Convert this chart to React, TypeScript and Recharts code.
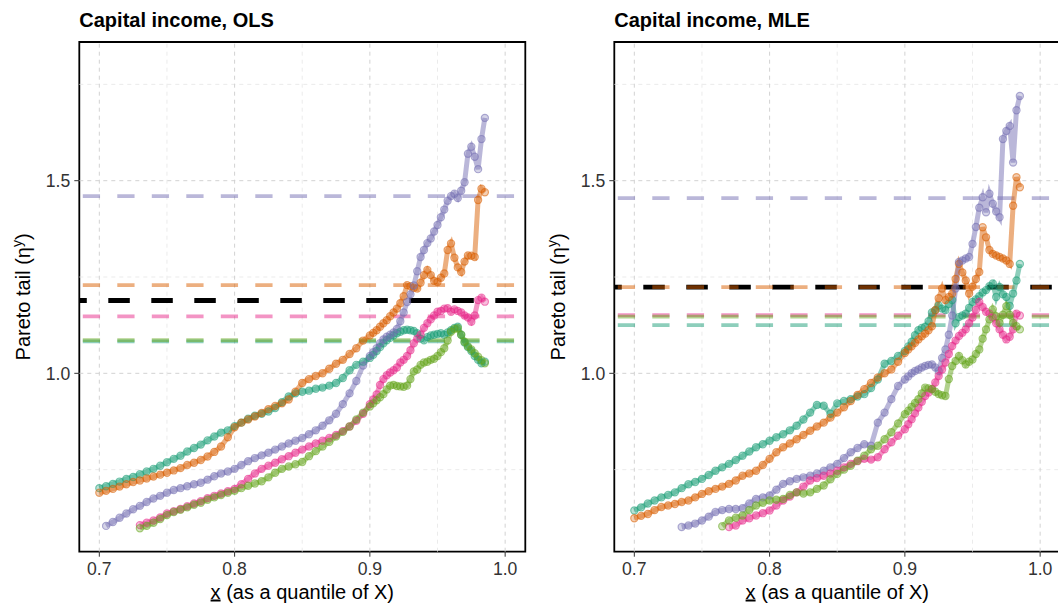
import { ComposedChart, Line, XAxis, YAxis, ReferenceLine, ReferenceArea } from "recharts"

// quantile grid shared by every series
const xGrid = [
  0.7, 0.705, 0.71, 0.715, 0.72, 0.725, 0.73, 0.735, 0.74, 0.745,
  0.75, 0.755, 0.76, 0.765, 0.77, 0.775, 0.78, 0.785, 0.79, 0.795,
  0.8, 0.805, 0.81, 0.815, 0.82, 0.825, 0.83, 0.835, 0.84, 0.845,
  0.85, 0.855, 0.86, 0.865, 0.87, 0.875, 0.88, 0.885, 0.89, 0.895,
  0.9, 0.9025, 0.905, 0.9075, 0.91, 0.9125, 0.915, 0.9175, 0.92, 0.9225,
  0.925, 0.9275, 0.93, 0.9325, 0.935, 0.9375, 0.94, 0.9425, 0.945, 0.9475,
  0.95, 0.9525, 0.955, 0.9575, 0.96, 0.9625, 0.965, 0.9675, 0.97, 0.9725,
  0.975, 0.9775, 0.98, 0.9825, 0.985,
]

// OLS panel
const olsTeal = [
  0.702, 0.707, 0.713, 0.719, 0.726, 0.731, 0.738, 0.745, 0.752, 0.76,
  0.769, 0.778, 0.786, 0.797, 0.806, 0.815, 0.826, 0.836, 0.846, 0.852,
  0.863, 0.872, 0.882, 0.89, 0.895, 0.901, 0.91, 0.925, 0.94, 0.948,
  0.952, 0.955, 0.96, 0.963, 0.968, 0.975, 0.988, 1.008, 1.022, 1.03,
  1.04, 1.048, 1.058, 1.068, 1.078, 1.086, 1.092, 1.098, 1.104, 1.108,
  1.112, 1.113, 1.112, 1.11, 1.104, 1.09, 1.086, 1.094, 1.098, 1.1,
  1.102, 1.104, 1.1, 1.106, 1.112, 1.118, 1.121, 1.1, 1.08, 1.068,
  1.058, 1.045, 1.035, 1.026, 1.03,
]
const olsOrange = [
  0.69, 0.695, 0.7, 0.706, 0.712, 0.718, 0.722, 0.727, 0.732, 0.737,
  0.742, 0.748, 0.754, 0.762, 0.768, 0.775, 0.784, 0.796, 0.81, 0.834,
  0.86, 0.872, 0.88, 0.888, 0.897, 0.907, 0.915, 0.922, 0.932, 0.952,
  0.975, 0.985, 0.993, 1.0, 1.012, 1.025, 1.035, 1.05, 1.065, 1.085,
  1.098, 1.105, 1.112, 1.121, 1.13, 1.138, 1.148, 1.158, 1.168, 1.182,
  1.2, 1.229, 1.226, 1.222, 1.22, 1.235, 1.255, 1.268, 1.255, 1.24,
  1.237, 1.248, 1.259, 1.32, 1.337, 1.3, 1.275, 1.263, 1.29, 1.306,
  1.305, 1.302, 1.45, 1.479, 1.47,
]
const olsPurple = [
  null, 0.604, 0.614, 0.625, 0.636, 0.647, 0.656, 0.666, 0.675, 0.682,
  0.69, 0.697, 0.702, 0.707, 0.712, 0.716, 0.724, 0.733, 0.74, 0.745,
  0.752, 0.762, 0.772, 0.78, 0.787, 0.794, 0.802, 0.81, 0.818, 0.825,
  0.832, 0.842, 0.852, 0.864, 0.878, 0.895, 0.92, 0.948, 0.98, 1.02,
  1.045, 1.055, 1.065, 1.078, 1.088, 1.095, 1.1, 1.106, 1.115, 1.135,
  1.158, 1.185, 1.205, 1.228, 1.265, 1.302, 1.32, 1.338, 1.35, 1.368,
  1.385, 1.405, 1.425, 1.448, 1.46, 1.466, 1.455, 1.474, 1.496, 1.57,
  1.588, 1.562, 1.53, 1.608, 1.663,
]
const olsPink = [
  null, null, null, null, null, null, 0.606, 0.612, 0.618, 0.626,
  0.636, 0.642, 0.648, 0.655, 0.662, 0.668, 0.676, 0.682, 0.688, 0.694,
  0.7, 0.712, 0.726, 0.74, 0.752, 0.76, 0.768, 0.777, 0.785, 0.794,
  0.802, 0.81, 0.818, 0.825, 0.832, 0.84, 0.85, 0.862, 0.877, 0.895,
  0.92, 0.932, 0.945, 0.97, 0.985, 0.995, 1.002, 1.008, 1.015, 1.028,
  1.035, 1.045, 1.06, 1.078, 1.09, 1.1, 1.118, 1.13, 1.14, 1.15,
  1.16, 1.162, 1.168, 1.169, 1.16, 1.166, 1.162, 1.158, 1.15, 1.145,
  1.134, 1.15, 1.19, 1.196, 1.186,
]
const olsGreen = [
  null, null, null, null, null, null, 0.598, 0.604, 0.612, 0.622,
  0.632, 0.64, 0.646, 0.652, 0.659, 0.664, 0.672, 0.678, 0.684, 0.69,
  0.695, 0.702, 0.708, 0.714, 0.72, 0.73, 0.742, 0.752, 0.758, 0.764,
  0.77, 0.785, 0.798, 0.81, 0.822, 0.836, 0.848, 0.862, 0.88, 0.898,
  0.914, 0.922, 0.93, 0.938, 0.946, 0.958, 0.968, 0.97, 0.967, 0.966,
  0.965, 0.968, 0.985, 1.005, 1.01, 1.022, 1.028, 1.03, 1.035, 1.038,
  1.045, 1.055, 1.065, 1.085, 1.108, 1.115, 1.117, 1.1, 1.082, 1.07,
  1.062, 1.052, 1.043, 1.034, 1.026,
]

// MLE panel
const mleTeal = [
  0.644, 0.652, 0.662, 0.67, 0.678, 0.684, 0.691, 0.702, 0.712, 0.718,
  0.726, 0.736, 0.747, 0.756, 0.765, 0.775, 0.786, 0.797, 0.808, 0.816,
  0.825, 0.834, 0.842, 0.852, 0.864, 0.88, 0.898, 0.918, 0.916, 0.895,
  0.922, 0.928, 0.933, 0.94, 0.946, 0.962, 0.984, 1.025, 1.032, 1.045,
  1.058, 1.07, 1.082, 1.099, 1.112, 1.118, 1.121, 1.135, 1.158, 1.164,
  1.176, 1.168, 1.164, 1.18, 1.19, 1.13, 1.146, 1.15, 1.155, 1.17,
  1.185, 1.192, 1.2, 1.21, 1.216, 1.226, 1.233, 1.198, 1.224, 1.205,
  1.198, 1.175, 1.207, 1.241, 1.284,
]
const mleOrange = [
  0.624, 0.63, 0.635, 0.645, 0.653, 0.657, 0.661, 0.666, 0.67, 0.678,
  0.687, 0.694, 0.7, 0.706, 0.713, 0.722, 0.734, 0.74, 0.747, 0.762,
  0.778, 0.795, 0.808, 0.818, 0.829, 0.84, 0.851, 0.862, 0.872, 0.885,
  0.898, 0.912, 0.928, 0.944, 0.959, 0.975, 0.989, 1.0, 1.01, 1.03,
  1.053, 1.062, 1.07, 1.079, 1.088, 1.096, 1.103, 1.112, 1.122, 1.164,
  1.195, 1.22, 1.19, 1.198, 1.207, 1.245, 1.284, 1.262, 1.241, 1.207,
  1.225, 1.245, 1.263, 1.379, 1.353, 1.32, 1.31, 1.306, 1.302, 1.298,
  1.293, 1.284, 1.435, 1.509, 1.483,
]
const mlePurple = [
  null, null, null, null, null, null, null, 0.601, 0.605, 0.61,
  0.618, 0.628, 0.64, 0.645, 0.648, 0.648, 0.65, 0.662, 0.674, 0.678,
  0.683, 0.698, 0.713, 0.72, 0.726, 0.73, 0.734, 0.74, 0.747, 0.756,
  0.765, 0.78, 0.795, 0.806, 0.816, 0.812, 0.872, 0.898, 0.933, 0.967,
  0.984, 0.992, 1.0, 1.006, 1.01, 1.015, 1.019, 1.022, 1.023, 1.015,
  1.006, 1.04, 1.062, 1.1, 1.15, 1.22, 1.289, 1.293, 1.298, 1.302,
  1.336, 1.38, 1.43, 1.457, 1.418, 1.466, 1.44, 1.42, 1.405, 1.608,
  1.629, 1.642, 1.547, 1.683, 1.72,
]
const mlePink = [
  null, null, null, null, null, null, null, null, null, null,
  null, null, null, null, 0.601, 0.605, 0.618, 0.624, 0.631, 0.637,
  0.644, 0.657, 0.67, 0.68, 0.691, 0.706, 0.722, 0.728, 0.734, 0.74,
  0.747, 0.756, 0.765, 0.772, 0.778, 0.776, 0.782, 0.803, 0.821, 0.838,
  0.855, 0.868, 0.881, 0.896, 0.911, 0.926, 0.941, 0.95, 0.959, 0.976,
  0.993, 1.01, 1.028, 1.05, 1.071, 1.085, 1.097, 1.105, 1.114, 1.13,
  1.145, 1.165, 1.185, 1.172, 1.16, 1.155, 1.145, 1.13, 1.114, 1.1,
  1.088, 1.095, 1.114, 1.155, 1.15,
]
const mleGreen = [
  null, null, null, null, null, null, null, null, null, null,
  null, null, null, 0.603, 0.618, 0.625, 0.631, 0.645, 0.657, 0.664,
  0.67, 0.672, 0.674, 0.684, 0.691, 0.688, 0.691, 0.7, 0.709, 0.725,
  0.739, 0.75, 0.76, 0.773, 0.786, 0.803, 0.812, 0.829, 0.847, 0.87,
  0.894, 0.903, 0.913, 0.923, 0.933, 0.948, 0.963, 0.961, 0.959, 0.952,
  0.946, 0.943, 0.941, 0.985, 1.019, 1.032, 1.045, 1.034, 1.023, 1.03,
  1.036, 1.05, 1.062, 1.09, 1.114, 1.14, 1.166, 1.148, 1.131, 1.152,
  1.174, 1.152, 1.131, 1.122, 1.114,
]

// horizontal reference levels, same series order as the colours
const olsTailLevels = [1.083, 1.229, 1.46, 1.148, 1.086]
const olsBenchmark = 1.189
const mleTailLevels = [1.125, 1.224, 1.455, 1.151, 1.147]
const mleBenchmark = 1.224

const xTicks = [0.7, 0.8, 0.9, 1.0]
const xMinor = [0.75, 0.85, 0.95]
const yTicks = [1.0, 1.5]
const yMinor = [0.75, 1.25, 1.75]

const COLORS = ["#1B9E77", "#D95F02", "#7570B3", "#E7298A", "#66A61E"]
const KEYS = ["s1", "s2", "s3", "s4", "s5"]

const X_DOMAIN = [0.6852, 1.0149]
const Y_DOMAIN = [0.537, 1.86]

function buildRows(cols: (number | null)[][]) {
  return xGrid.map((x, i) => {
    const row: Record<string, number | null> = { x }
    cols.forEach((c, k) => {
      row[KEYS[k]] = c[i]
    })
    return row
  })
}

const olsRows = buildRows([olsTeal, olsOrange, olsPurple, olsPink, olsGreen])
const mleRows = buildRows([mleTeal, mleOrange, mlePurple, mlePink, mleGreen])

interface PanelProps {
  rows: Record<string, number | null>[]
  levels: number[]
  benchmark: number
  left: number
}

function Panel({ rows, levels, benchmark, left }: PanelProps) {
  return (
    <div style={{ position: "absolute", left, top: 0 }}>
      <ComposedChart
        width={540}
        height={607}
        data={rows}
        margin={{ top: 42, right: 14.7, bottom: 25.3, left: 0 }}
      >
        <XAxis
          dataKey="x"
          type="number"
          domain={X_DOMAIN}
          allowDataOverflow
          ticks={xTicks}
          interval={0}
          height={30}
          tickFormatter={(v: number) => v.toFixed(1)}
          axisLine={false}
          tickLine={{ stroke: "#333", strokeWidth: 1 }}
          tickSize={5}
          tickMargin={6}
          tick={{ fontSize: 17.6, fill: "#333" }}
        />
        <YAxis
          type="number"
          domain={Y_DOMAIN}
          allowDataOverflow
          ticks={yTicks}
          interval={0}
          width={79.3}
          tickFormatter={(v: number) => v.toFixed(1)}
          axisLine={false}
          tickLine={{ stroke: "#333", strokeWidth: 1 }}
          tickSize={5}
          tickMargin={4}
          tick={{ fontSize: 17.6, fill: "#333" }}
        />

        {xMinor.map((v) => (
          <ReferenceLine key={`xm${v}`} x={v} stroke="#e6e6e6" strokeWidth={0.8} strokeDasharray="4 4" />
        ))}
        {yMinor.map((v) => (
          <ReferenceLine key={`ym${v}`} y={v} stroke="#e6e6e6" strokeWidth={0.8} strokeDasharray="4 4" />
        ))}
        {xTicks.map((v) => (
          <ReferenceLine key={`xg${v}`} x={v} stroke="#d2d2d2" strokeWidth={1} strokeDasharray="4 4" />
        ))}
        {yTicks.map((v) => (
          <ReferenceLine key={`yg${v}`} y={v} stroke="#d2d2d2" strokeWidth={1} strokeDasharray="4 4" />
        ))}

        <ReferenceLine
          y={benchmark}
          stroke="#000"
          strokeWidth={4.8}
          strokeDasharray="21.5 21.5"
          strokeDashoffset={14}
        />
        {levels.map((v, i) => (
          <ReferenceLine
            key={`lv${i}`}
            y={v}
            stroke={COLORS[i]}
            strokeOpacity={0.5}
            strokeWidth={3.8}
            strokeDasharray="17.25 17.25"
            strokeDashoffset={31}
          />
        ))}

        {KEYS.map((k, i) => (
          <Line
            key={k}
            dataKey={k}
            type="linear"
            stroke={COLORS[i]}
            strokeOpacity={0.5}
            strokeWidth={5}
            connectNulls={false}
            dot={{
              r: 3.6,
              fill: COLORS[i],
              fillOpacity: 0.3,
              stroke: COLORS[i],
              strokeOpacity: 0.55,
              strokeWidth: 1.2,
            }}
            activeDot={false}
            isAnimationActive={false}
          />
        ))}

        <ReferenceArea
          x1={X_DOMAIN[0]}
          x2={X_DOMAIN[1]}
          y1={Y_DOMAIN[0]}
          y2={Y_DOMAIN[1]}
          fill="none"
          fillOpacity={0}
          stroke="#000"
          strokeWidth={1.8}
          ifOverflow="visible"
        />
      </ComposedChart>
    </div>
  )
}

function Labels() {
  const plots = [
    { left: 79.3, title: "Capital income, OLS" },
    { left: 614.3, title: "Capital income, MLE" },
  ]
  return (
    <svg
      width={1058}
      height={607}
      style={{ position: "absolute", left: 0, top: 0, pointerEvents: "none" }}
    >
      {plots.map((p) => (
        <g key={p.title}>
          <text x={p.left} y={27} fontSize={20} fontWeight="bold" fill="#000">
            {p.title}
          </text>
          <text
            transform={`translate(${p.left - 49.8},296.9) rotate(-90)`}
            textAnchor="middle"
            fontSize={20}
            fill="#000"
          >
            Pareto tail (η
            <tspan dy={-8} fontSize={14}>y</tspan>
            <tspan dy={8}>)</tspan>
          </text>
          <text x={p.left + 223} y={598.5} textAnchor="middle" fontSize={20} fill="#000">
            <tspan style={{ textDecoration: "underline" }}>x</tspan> (as a quantile of X)
          </text>
        </g>
      ))}
    </svg>
  )
}

export default function App() {
  return (
    <div
      style={{
        position: "absolute",
        left: 0,
        top: 0,
        width: 1058,
        height: 607,
        overflow: "hidden",
        background: "#fff",
        fontFamily: "'Liberation Sans', Arial, Helvetica, sans-serif",
      }}
    >
      <Panel rows={olsRows} levels={olsTailLevels} benchmark={olsBenchmark} left={0} />
      <Panel rows={mleRows} levels={mleTailLevels} benchmark={mleBenchmark} left={535} />
      <Labels />
    </div>
  )
}
